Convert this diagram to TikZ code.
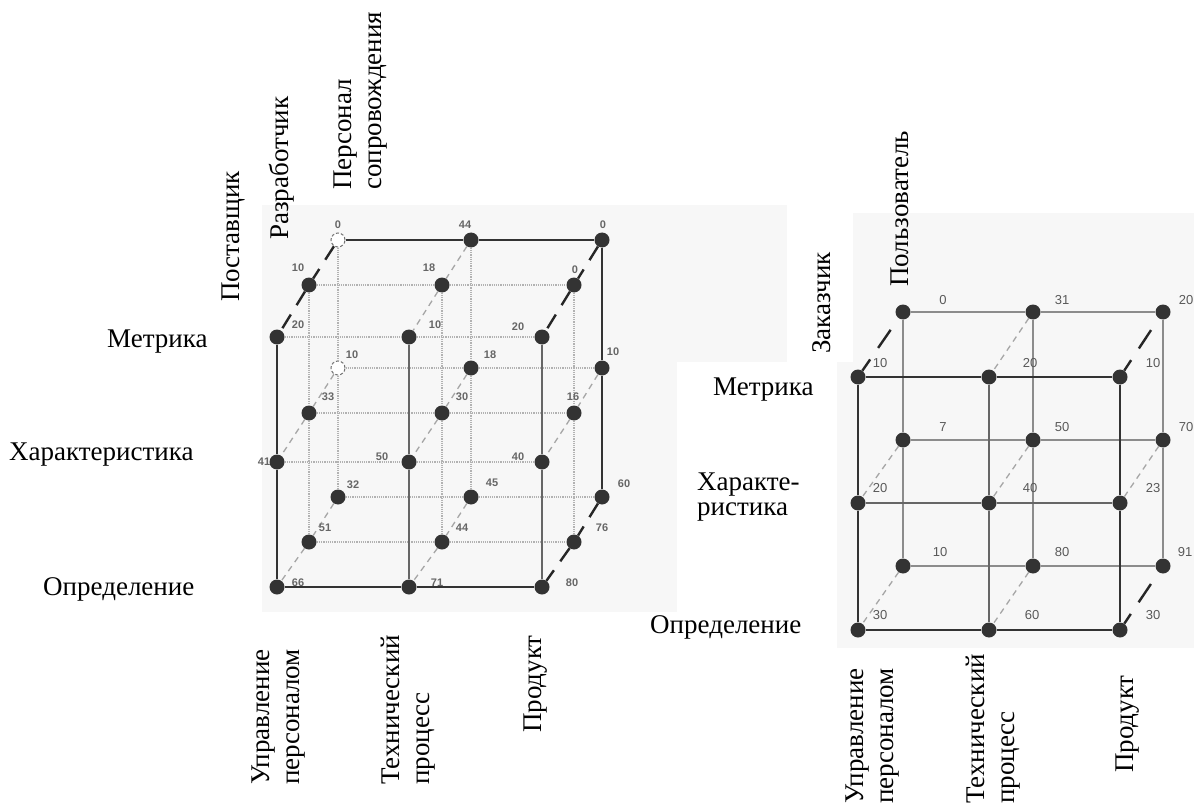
\documentclass[tikz,border=0pt]{standalone}
\usepackage{fontspec}
\setmainfont{Liberation Serif}
\setsansfont{Liberation Sans}
\begin{document}
\begin{tikzpicture}[x=1pt,y=-1pt,
  lab/.style={font=\fontsize{27}{30}\selectfont, inner sep=0pt, text=black},
  vlab/.style={lab, rotate=90, anchor=north west, align=left},
  lnum/.style={font=\sffamily\bfseries\fontsize{11}{12}\selectfont, text=black!60, inner sep=0pt},
  rnum/.style={font=\sffamily\fontsize{13}{14}\selectfont, text=black!65, inner sep=0pt},
  dot/.style={circle, fill=black!80, minimum size=15pt, inner sep=0pt},
  hdot/.style={circle, draw=black!55, densely dashed, line width=1pt, fill=white, minimum size=14pt, inner sep=0pt},
  heavy/.style={line width=2.6pt, black!80},
  medium/.style={line width=1.4pt, black!60},
  grid/.style={line width=1.2pt, black!30, densely dotted},
  rgrid/.style={line width=1.1pt, black!45},
  ddark/.style={line width=2.4pt, black!85, dash pattern=on 16pt off 11pt},
  dlight/.style={line width=1.3pt, black!35, dash pattern=on 6pt off 5pt},
  bg/.style={fill=black!3}
]
\useasboundingbox (0,0) rectangle (1194,805);
\clip (0,0) rectangle (1194,805);
% scanned background
\fill[bg] (262,205) rectangle (787,612);
\fill[bg] (853,213) rectangle (1194,648);
\fill[bg] (837,362) rectangle (853,648);
\fill[white] (677,362) rectangle (787,612);

% ---------------- left cube nodes ----------------
\node[hdot] (lBt1) at (338,240) {};
\node[dot]  (lBt2) at (471,240) {};
\node[dot]  (lBt3) at (602,240) {};
\node[hdot] (lBm1) at (338,368) {};
\node[dot]  (lBm2) at (471,368) {};
\node[dot]  (lBm3) at (602,368) {};
\node[dot]  (lBb1) at (338,497) {};
\node[dot]  (lBb2) at (471,497) {};
\node[dot]  (lBb3) at (602,497) {};
\node[dot] (lMt1) at (309,285) {};
\node[dot] (lMt2) at (442,285) {};
\node[dot] (lMt3) at (574,285) {};
\node[dot] (lMm1) at (309,413) {};
\node[dot] (lMm2) at (442,413) {};
\node[dot] (lMm3) at (574,413) {};
\node[dot] (lMb1) at (309,542) {};
\node[dot] (lMb2) at (442,542) {};
\node[dot] (lMb3) at (574,542) {};
\node[dot] (lFt1) at (277,337) {};
\node[dot] (lFt2) at (409,337) {};
\node[dot] (lFt3) at (542,337) {};
\node[dot] (lFm1) at (277,462) {};
\node[dot] (lFm2) at (409,462) {};
\node[dot] (lFm3) at (542,462) {};
\node[dot] (lFb1) at (277,587) {};
\node[dot] (lFb2) at (409,587) {};
\node[dot] (lFb3) at (542,587) {};

% left cube lines
\draw[grid] (lBm1) -- (lBm2) -- (lBm3);
\draw[grid] (lBb1) -- (lBb2) -- (lBb3);
\draw[grid] (lBt1) -- (lBm1) -- (lBb1);
\draw[grid] (lBt2) -- (lBm2) -- (lBb2);
\draw[grid] (lMt1) -- (lMt2) -- (lMt3);
\draw[grid] (lMm1) -- (lMm2) -- (lMm3);
\draw[grid] (lMb1) -- (lMb2) -- (lMb3);
\draw[grid] (lMt1) -- (lMm1) -- (lMb1);
\draw[grid] (lMt2) -- (lMm2) -- (lMb2);
\draw[grid] (lMt3) -- (lMm3) -- (lMb3);
\draw[grid] (lFt1) -- (lFt2) -- (lFt3);
\draw[grid] (lFm1) -- (lFm2) -- (lFm3);
\draw[medium] (lFt2) -- (lFm2) -- (lFb2);
\draw[medium] (lFt3) -- (lFm3) -- (lFb3);
\draw[heavy] (lBt1) -- (lBt2) -- (lBt3) -- (lBm3) -- (lBb3);
\draw[heavy] (lFt1) -- (lFm1) -- (lFb1) -- (lFb2) -- (lFb3);
\draw[dlight] (lBt2) -- (lMt2) -- (lFt2);
\draw[dlight] (lBm1) -- (lMm1) -- (lFm1);
\draw[dlight] (lBm2) -- (lMm2) -- (lFm2);
\draw[dlight] (lBm3) -- (lMm3) -- (lFm3);
\draw[dlight] (lBb1) -- (lMb1) -- (lFb1);
\draw[dlight] (lBb2) -- (lMb2) -- (lFb2);
\draw[ddark] (lBt1) -- (lMt1) -- (lFt1);
\draw[ddark] (lBt3) -- (lMt3) -- (lFt3);
\draw[ddark] (lBb3) -- (lMb3) -- (lFb3);

% left cube numbers
\node[lnum] (nlBt1) at (338,225) {0};
\node[lnum] (nlBt2) at (465,225) {44};
\node[lnum] (nlBt3) at (603,225) {0};
\node[lnum] (nlMt1) at (298,268) {10};
\node[lnum] (nlMt2) at (429,268) {18};
\node[lnum] (nlMt3) at (575,270) {0};
\node[lnum] (nlFt1) at (298,325) {20};
\node[lnum] (nlFt2) at (435,325) {10};
\node[lnum] (nlFt3) at (518,327) {20};
\node[lnum] (nlBm1) at (352,355) {10};
\node[lnum] (nlBm2) at (490,355) {18};
\node[lnum] (nlBm3) at (613,352) {10};
\node[lnum] (nlMm1) at (328,397) {33};
\node[lnum] (nlMm2) at (462,397) {30};
\node[lnum] (nlMm3) at (573,397) {16};
\node[lnum] (nlFm1) at (264,462) {41};
\node[lnum] (nlFm2) at (382,457) {50};
\node[lnum] (nlFm3) at (518,457) {40};
\node[lnum] (nlBb1) at (353,485) {32};
\node[lnum] (nlBb2) at (492,483) {45};
\node[lnum] (nlBb3) at (624,484) {60};
\node[lnum] (nlMb1) at (325,528) {51};
\node[lnum] (nlMb2) at (462,528) {44};
\node[lnum] (nlMb3) at (602,528) {76};
\node[lnum] (nlFb1) at (298,583) {66};
\node[lnum] (nlFb2) at (437,583) {71};
\node[lnum] (nlFb3) at (572,583) {80};

% ---------------- right cube nodes ----------------
\node[dot] (rBt1) at (903,312) {};
\node[dot] (rBt2) at (1033,312) {};
\node[dot] (rBt3) at (1163,312) {};
\node[dot] (rBm1) at (903,440) {};
\node[dot] (rBm2) at (1033,440) {};
\node[dot] (rBm3) at (1163,440) {};
\node[dot] (rBb1) at (903,566) {};
\node[dot] (rBb2) at (1033,566) {};
\node[dot] (rBb3) at (1163,566) {};
\node[dot] (rFt1) at (858,377) {};
\node[dot] (rFt2) at (989,377) {};
\node[dot] (rFt3) at (1120,377) {};
\node[dot] (rFm1) at (858,503) {};
\node[dot] (rFm2) at (989,503) {};
\node[dot] (rFm3) at (1120,503) {};
\node[dot] (rFb1) at (858,630) {};
\node[dot] (rFb2) at (989,630) {};
\node[dot] (rFb3) at (1120,630) {};

\draw[rgrid] (rBt1) -- (rBt2) -- (rBt3);
\draw[rgrid] (rBm1) -- (rBm2) -- (rBm3);
\draw[rgrid] (rBb1) -- (rBb2) -- (rBb3);
\draw[rgrid] (rBt1) -- (rBm1) -- (rBb1);
\draw[rgrid] (rBt2) -- (rBm2) -- (rBb2);
\draw[rgrid] (rBt3) -- (rBm3) -- (rBb3);
\draw[medium] (rFm1) -- (rFm2) -- (rFm3);
\draw[medium] (rFt2) -- (rFm2) -- (rFb2);
\draw[heavy] (rFt1) -- (rFt2) -- (rFt3) -- (rFm3) -- (rFb3) -- (rFb2) -- (rFb1) -- (rFm1) -- (rFt1);
\draw[dlight] (rBt2) -- (rFt2);
\draw[dlight] (rBm1) -- (rFm1);
\draw[dlight] (rBm2) -- (rFm2);
\draw[dlight] (rBm3) -- (rFm3);
\draw[dlight] (rBb1) -- (rFb1);
\draw[dlight] (rBb2) -- (rFb2);
\draw[ddark, dash pattern=on 22pt off 14pt, dash phase=-14pt] (rBt1) -- (rFt1);
\draw[ddark, dash pattern=on 22pt off 14pt, dash phase=-14pt] (rBt3) -- (rFt3);
\draw[ddark, dash pattern=on 22pt off 14pt, dash phase=-14pt] (rBb3) -- (rFb3);

% right cube numbers
\node[rnum] (nrBt1) at (943,300) {0};
\node[rnum] (nrBt2) at (1062,300) {31};
\node[rnum] (nrBt3) at (1186,300) {20};
\node[rnum] (nrBm1) at (943,427) {7};
\node[rnum] (nrBm2) at (1062,427) {50};
\node[rnum] (nrBm3) at (1186,427) {70};
\node[rnum] (nrBb1) at (940,552) {10};
\node[rnum] (nrBb2) at (1062,552) {80};
\node[rnum] (nrBb3) at (1185,552) {91};
\node[rnum] (nrFt1) at (880,363) {10};
\node[rnum] (nrFt2) at (1030,363) {20};
\node[rnum] (nrFt3) at (1153,363) {10};
\node[rnum] (nrFm1) at (880,488) {20};
\node[rnum] (nrFm2) at (1030,488) {40};
\node[rnum] (nrFm3) at (1153,488) {23};
\node[rnum] (nrFb1) at (880,615) {30};
\node[rnum] (nrFb2) at (1032,615) {60};
\node[rnum] (nrFb3) at (1153,615) {30};

% ---------------- text labels ----------------
\node[lab, anchor=base west] (lMet) at (107,347) {Метрика};
\node[lab, anchor=base west] (lCha) at (9,460) {Характеристика};
\node[lab, anchor=base west] (lDef) at (43,595) {Определение};
\node[vlab] (lPos) at (222,302) {Поставщик};
\node[vlab] (lRaz) at (269,240) {Разработчик};
\node[vlab] (lPer) at (334,190) {Персонал\\сопровождения};
\node[vlab] (lUpr) at (252,785) {Управление\\персоналом};
\node[vlab] (lTeh) at (381,785) {Технический\\процесс};
\node[vlab] (lPro) at (524,733) {Продукт};
\node[lab, anchor=base west] (rMet) at (713,395) {Метрика};
\node[lab, anchor=north west, align=left, font=\fontsize{27}{25}\selectfont] (rCha) at (697,473) {Характе-\\ристика};
\node[lab, anchor=base west] (rDef) at (650,633) {Определение};
\node[vlab] (rZak) at (812,354) {Заказчик};
\node[vlab] (rPol) at (891,287) {Пользователь};
\node[vlab] (rUpr) at (846,804) {Управление\\персоналом};
\node[vlab] (rTeh) at (966,804) {Технический\\процесс};
\node[vlab] (rPro) at (1116,773) {Продукт};
\end{tikzpicture}
\end{document}
